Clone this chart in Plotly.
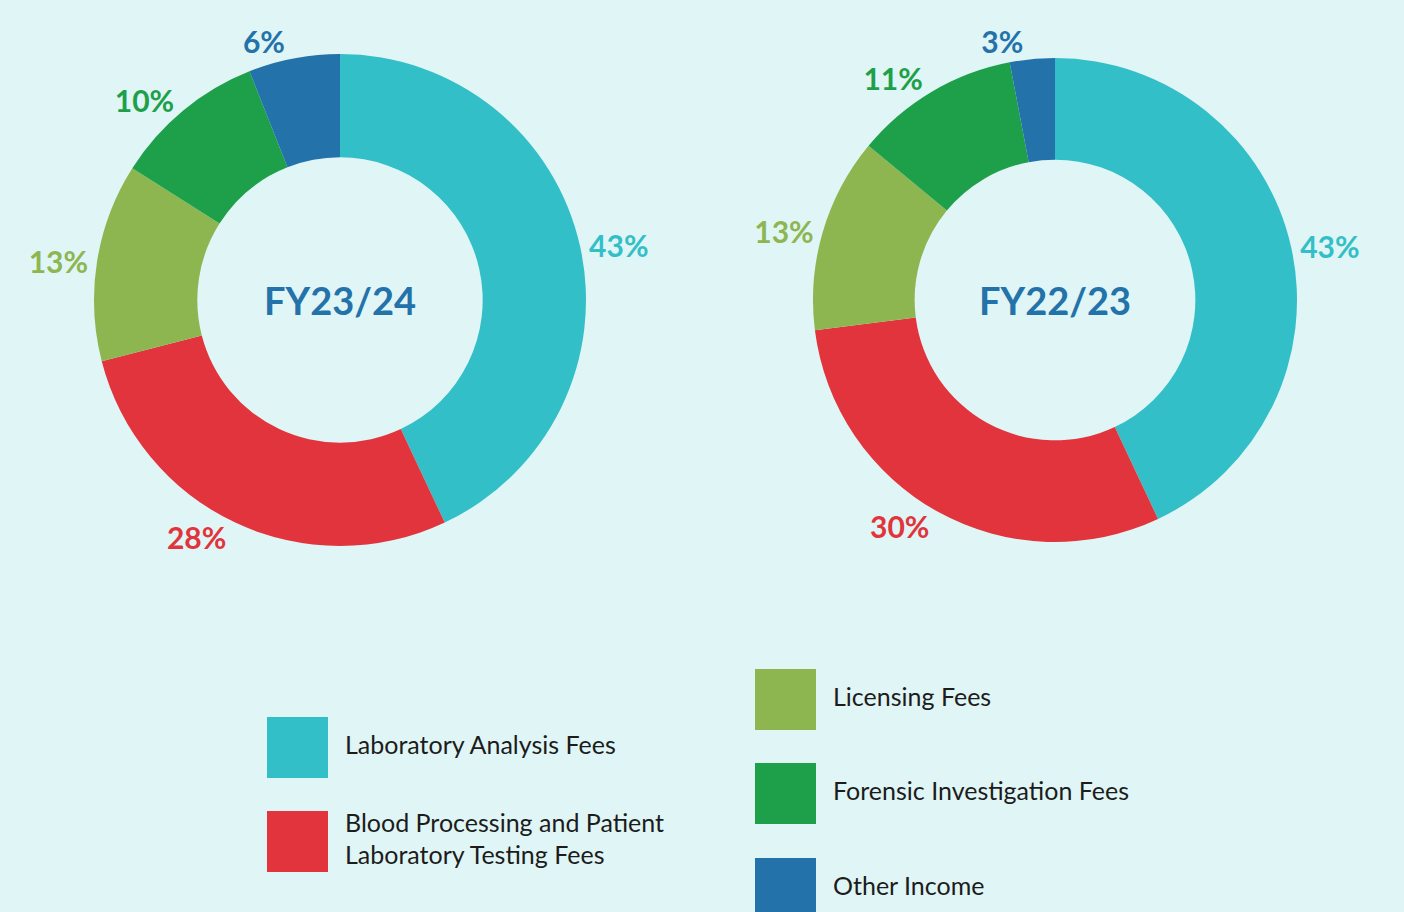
import plotly.graph_objects as go

categories = ["Laboratory Analysis Fees",
              "Blood Processing and Patient Laboratory Testing Fees",
              "Licensing Fees", "Forensic Investigation Fees", "Other Income"]
fy2324 = [43, 28, 13, 10, 6]
fy2223 = [43, 30, 13, 11, 3]
colors = ["#33bfc7", "#e1343c", "#8db651", "#1ea04a", "#2372aa"]
legend_labels = ["Laboratory Analysis Fees",
                 "Blood Processing and Patient<br>Laboratory Testing Fees",
                 "Licensing Fees", "Forensic Investigation Fees", "Other Income"]
# legend layout (pixel positions of swatch centres)
legend_x = [297.5, 297.5, 785.5, 785.5, 785.5]
legend_y = [747.5, 841.5, 699.5, 793.5, 888.5]

W, H = 1404, 912
BG = "#e0f5f5"

fig = go.Figure()

def add_pie(vals, title, cx, cy, r):
    fig.add_trace(go.Pie(
        labels=categories, values=vals, hole=0.58, sort=False,
        direction="clockwise", rotation=0,
        marker=dict(colors=colors, line=dict(width=0)),
        texttemplate="%{value}%", textposition="outside",
        outsidetextfont=dict(color=colors, size=30, family="Lato", weight="bold"),
        showlegend=False, hoverinfo="label+percent",
        title=dict(text=title, position="middle center",
                   font=dict(size=38, color="#2372aa", family="Lato", weight="bold")),
        domain=dict(x=[(cx - r) / W, (cx + r) / W],
                    y=[1 - (cy + r) / H, 1 - (cy - r) / H]),
    ))

add_pie(fy2324, "FY23/24", 340, 300, 246)
add_pie(fy2223, "FY22/23", 1055, 300, 242)

# legend swatches
fig.add_trace(go.Scatter(
    x=legend_x, y=legend_y, mode="markers",
    marker=dict(symbol="square", size=61, color=colors, line=dict(width=0)),
    hoverinfo="skip", showlegend=False, cliponaxis=False))
fig.add_trace(go.Scatter(
    x=[v + 47.5 for v in legend_x], y=legend_y, mode="text",
    text=legend_labels, textposition="middle right",
    textfont=dict(size=25, color="#1c1c1c", family="Lato"),
    hoverinfo="skip", showlegend=False, cliponaxis=False))

fig.update_layout(
    width=W, height=H, margin=dict(l=0, r=0, t=0, b=0),
    paper_bgcolor=BG, plot_bgcolor=BG,
    xaxis=dict(range=[0, W], visible=False, domain=[0, 1], fixedrange=True),
    yaxis=dict(range=[H, 0], visible=False, domain=[0, 1], fixedrange=True),
)

fig.write_html("out.html",
               config={"displayModeBar": False},
               post_script="document.body.style.margin='0';"
                           "document.body.style.background='" + BG + "';")
